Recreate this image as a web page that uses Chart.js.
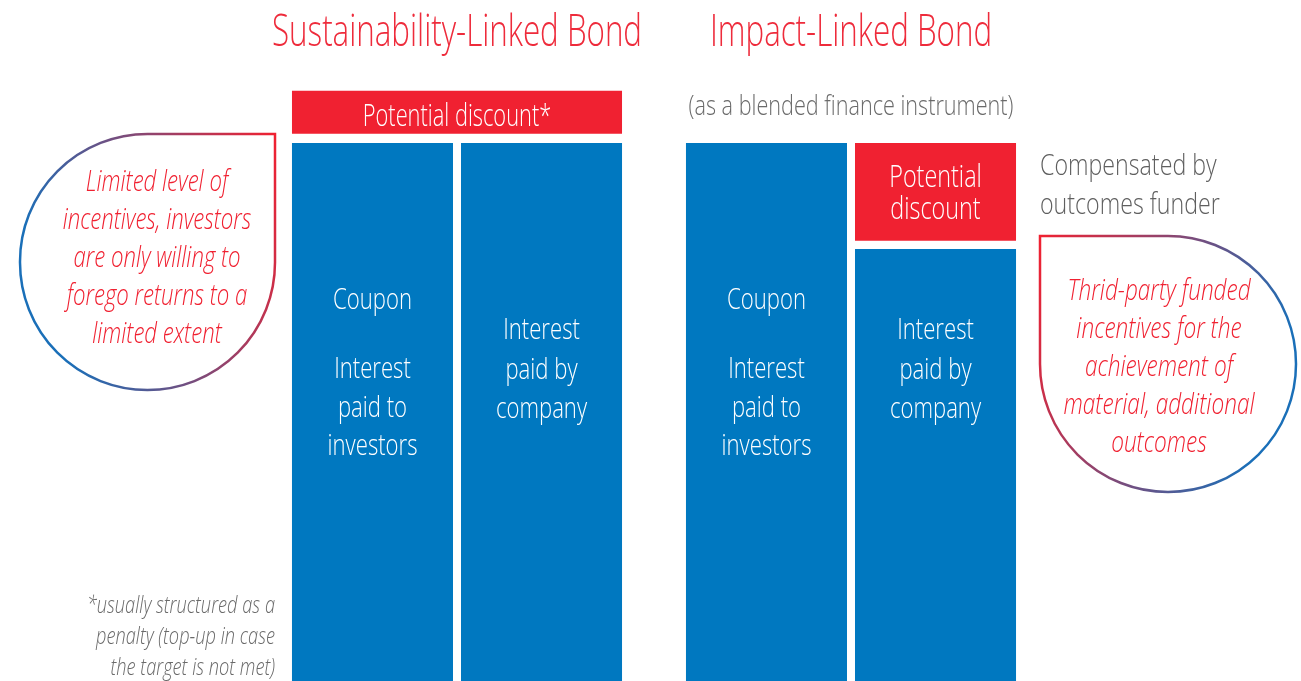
<!DOCTYPE html>
<html><head><meta charset="utf-8">
<script src="https://cdn.jsdelivr.net/npm/chart.js@4/dist/chart.umd.min.js"></script>
<style>html,body{margin:0;padding:0;background:#fff;}#wrap{width:1301px;height:681px;position:relative;}</style>
</head><body><div id="wrap"><canvas id="c" width="1301" height="681"></canvas></div>
<script>
const categories = ['Sustainability-Linked Bond', 'Impact-Linked Bond'];
const couponValues = [100, 100];
const interestValues = [100, 80.3];
const discountStacked = [null, [81.8, 100]];
const discountWide = [[101.7, 109.7], null];
const couponText = ['Coupon', '', 'Interest', 'paid to', 'investors'];
const interestText = ['Interest', 'paid by', 'company'];
const discountWideText = ['Potential discount*'];
const discountStackedText = ['Potential', 'discount'];
const subtitleILB = '(as a blended finance instrument)';
const compensatedText = ['Compensated by', 'outcomes funder'];
const leftBubbleText = ['Limited level of', 'incentives, investors', 'are only willing to', 'forego returns to a', 'limited extent'];
const rightBubbleText = ['Thrid-party funded', 'incentives for the', 'achievement of', 'material, additional', 'outcomes'];
const footnoteText = ['*usually structured as a', 'penalty (top-up in case', 'the target is not met)'];

const BLUE = '#0078c0', RED = '#f02131', TRED = '#ee2b3b', GREY = '#5f5f5f';
const FAM = "'Open Sans', 'Liberation Sans', sans-serif";
let SX = 0.72;

function txt(ctx, s, x, y, size, color, align, italic, k) {
  const sx = SX * (k || 1);
  ctx.save();
  ctx.font = (italic ? 'italic ' : '') + '300 ' + size + 'px ' + FAM;
  ctx.fillStyle = color;
  ctx.textBaseline = 'alphabetic';
  const w = ctx.measureText(s).width * sx;
  let x0 = x;
  if (align === 'center') x0 = x - w / 2;
  else if (align === 'right') x0 = x - w;
  ctx.translate(x0, y);
  ctx.scale(sx, 1);
  ctx.textAlign = 'left';
  ctx.fillText(s, 0, 0);
  ctx.restore();
}

function bubble(ctx, x0, y0, x1, y1, squareCorner, leftColor, rightColor) {
  const r = Math.min(x1 - x0, y1 - y0) / 2;
  const g = squareCorner === 'tr'
    ? ctx.createLinearGradient(x0, y0 + (y1 - y0) * 0.3, x1, y0)
    : ctx.createLinearGradient(x0, y0, x1, y0 + (y1 - y0) * 0.3);
  g.addColorStop(0, leftColor); g.addColorStop(1, rightColor);
  ctx.save();
  ctx.strokeStyle = g; ctx.lineWidth = 2.5;
  ctx.beginPath();
  const rTL = squareCorner === 'tl' ? 0 : r, rTR = squareCorner === 'tr' ? 0 : r;
  ctx.moveTo(x0 + rTL, y0);
  ctx.lineTo(x1 - rTR, y0);
  if (rTR) ctx.arc(x1 - r, y0 + r, r, -Math.PI / 2, 0);
  ctx.lineTo(x1, y1 - r);
  ctx.arc(x1 - r, y1 - r, r, 0, Math.PI / 2);
  ctx.lineTo(x0 + r, y1);
  ctx.arc(x0 + r, y1 - r, r, Math.PI / 2, Math.PI);
  ctx.lineTo(x0, y0 + rTL);
  if (rTL) ctx.arc(x0 + r, y0 + r, r, Math.PI, Math.PI * 1.5);
  ctx.closePath();
  ctx.stroke();
  ctx.restore();
}

const textPlugin = {
  id: 'texts',
  afterDraw(chart) {
    const ctx = chart.ctx;
    ctx.save();
    ctx.font = '300 45px ' + FAM;
    SX = 370 / ctx.measureText(categories[0]).width;
    ctx.restore();
    const x = chart.scales.x;
    const c0 = x.getPixelForValue(0), c1 = x.getPixelForValue(1);
    txt(ctx, categories[0], c0, 46, 45, TRED, 'center');
    txt(ctx, categories[1], c1, 46, 45, TRED, 'center');
    txt(ctx, subtitleILB, c1, 115, 28, '#6a6a6a', 'center', false, 1.11);

    const m0 = chart.getDatasetMeta(0), m1 = chart.getDatasetMeta(1), m2 = chart.getDatasetMeta(2), m3 = chart.getDatasetMeta(3);
    const base = [309, null, 378, 417, 455];
    m0.data.forEach(b => {
      couponText.forEach((t, i) => { if (t) txt(ctx, t, b.x, base[i], 30, '#ffffff', 'center', false, 1.06); });
    });
    m1.data.forEach(b => {
      interestText.forEach((t, i) => txt(ctx, t, b.x, 339 + i * 39.5, 30, '#ffffff', 'center', false, 1.06));
    });
    const bs = m2.data[1];
    discountStackedText.forEach((t, i) => txt(ctx, t, bs.x, 187 + i * 31.5, 32, '#ffffff', 'center', false, 1.05));
    const bw = m3.data[0];
    txt(ctx, discountWideText[0], bw.x, 126, 32, '#ffffff', 'center', false, 0.98);

    compensatedText.forEach((t, i) => txt(ctx, t, 1040, 175 + i * 38.5, 29, GREY, 'left', false, 1.15));

    bubble(ctx, 20, 134, 275, 390, 'tr', '#1a6fb8', '#f02131');
    bubble(ctx, 1040, 236, 1296, 492, 'tl', '#f02131', '#1a6fb8');
    leftBubbleText.forEach((t, i) => txt(ctx, t, 157, 191 + i * 38, 29, RED, 'center', true, 1.1));
    rightBubbleText.forEach((t, i) => txt(ctx, t, 1159, 300 + i * 38, 29, RED, 'center', true, 1.12));
    footnoteText.forEach((t, i) => txt(ctx, t, 275, 613 + i * 31, 24.5, '#6a6a6a', 'right', true, 1.07));
  }
};

new Chart(document.getElementById('c'), {
  type: 'bar',
  data: {
    labels: categories,
    datasets: [
      { label: 'Coupon', data: couponValues, backgroundColor: BLUE, stack: 'a' },
      { label: 'Interest', data: interestValues, backgroundColor: BLUE, stack: 'b' },
      { label: 'Potential discount', data: discountStacked, backgroundColor: RED, stack: 'b' },
      { label: 'Potential discount*', data: discountWide, backgroundColor: RED, grouped: false, barPercentage: 0.9763, categoryPercentage: 0.858 }
    ]
  },
  options: {
    responsive: false, animation: false,
    layout: { padding: { left: 260, right: 253, top: 81, bottom: 0 } },
    datasets: { bar: { categoryPercentage: 0.858, barPercentage: 0.9527, borderWidth: 0 } },
    plugins: { legend: { display: false }, title: { display: false }, tooltip: { enabled: false } },
    scales: {
      x: { type: 'category', stacked: true, display: false, offset: true },
      y: { stacked: false, display: false, min: 0, max: 111.5 }
    }
  },
  plugins: [textPlugin]
});
</script></body></html>
